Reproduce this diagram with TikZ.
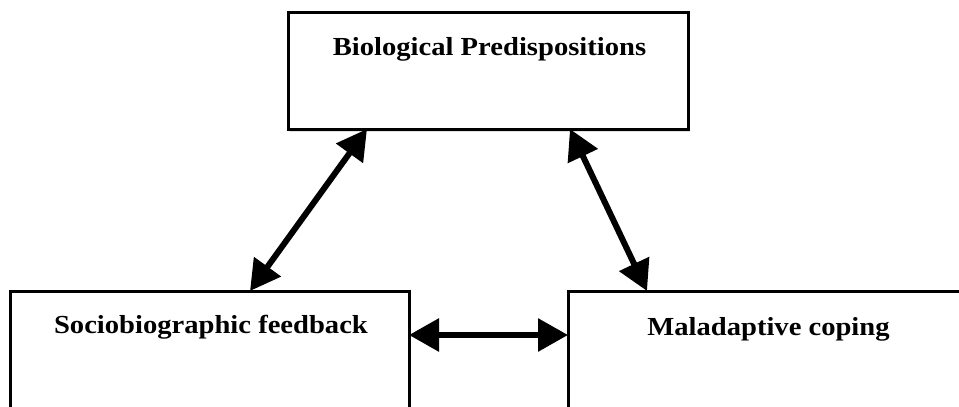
\documentclass[tikz,border=0pt]{standalone}
\usepackage{fontspec}
\setmainfont[FakeStretch=1.1]{Liberation Serif}
\usetikzlibrary{arrows.meta,shadows,calc}
\tikzset{
  box/.style={draw=black, line width=3pt, fill=white, inner sep=0pt, outer sep=0pt,
    drop shadow={opacity=0.25, shadow xshift=2pt, shadow yshift=-3pt}},
  lbl/.style={anchor=base, inner sep=0pt, font=\fontsize{26}{29}\selectfont\bfseries},
  link/.style={line width=6pt, {Triangle[length=30pt,width=32pt]}-{Triangle[length=30pt,width=32pt]}}
}
\begin{document}
\begin{tikzpicture}[x=1pt,y=-1pt]
\useasboundingbox (0,0) rectangle (959,407);
\clip (0,0) rectangle (959,407);
\fill[white] (0,0) rectangle (959,407);
% boxes
\node[box, minimum width=400pt, minimum height=117pt] (bio) at (488,70.5) {};
\node[box, minimum width=399pt, minimum height=140pt] (socio) at (209.5,361) {};
\node[box, minimum width=400pt, minimum height=140pt] (mal) at (768,361) {};
% texts
\node[lbl] (biot) at (489.5,55) {Biological Predispositions};
\node[lbl] (sociot) at (211,333) {Sociobiographic feedback};
\node[lbl] (malt) at (768.5,335) {Maladaptive coping};
% anchor points
\coordinate (bioL) at ($(bio.south west)+(79,0)$);
\coordinate (bioR) at ($(bio.south west)+(282,0)$);
\coordinate (socioT) at ($(socio.north west)+(240,0)$);
\coordinate (malT) at ($(mal.north west)+(79,0)$);
\coordinate (socioE) at ($(socio.north east)+(0,44)$);
\coordinate (malW) at ($(mal.north west)+(0,44)$);
% connectors
\draw[link] (socioT) -- (bioL);
\draw[link] (bioR) -- (malT);
\draw[link] (socioE) -- (malW);
\end{tikzpicture}
\end{document}
